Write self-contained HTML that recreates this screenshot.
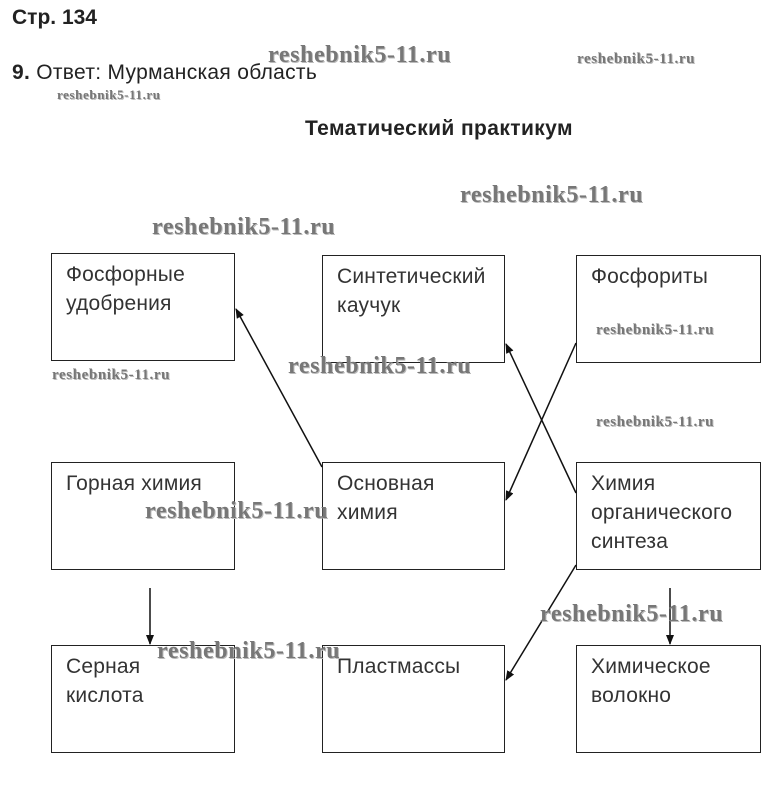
<!DOCTYPE html>
<html><head><meta charset="utf-8"><style>
body{margin:0;width:775px;height:803px;background:#fff;position:relative;overflow:hidden;font-family:"Liberation Sans",sans-serif;}
.t{position:absolute;white-space:nowrap;color:#222;}
.b{position:absolute;border:1px solid #222;box-sizing:border-box;font-size:21px;color:#333;padding:6px 0 0 14px;line-height:29px;letter-spacing:0.2px;}
.w{position:absolute;white-space:nowrap;font-family:"Liberation Serif",serif;font-weight:bold;color:#777;text-shadow:1px 1px 0 #bbb;letter-spacing:0.6px;}
</style></head><body>
<div class="t" style="left:12px;top:6px;font-size:21px;font-weight:bold">Стр. 134</div>
<div class="t" style="left:12px;top:61px;font-size:21px;letter-spacing:0.3px"><b>9.</b> Ответ: Мурманская область</div>
<div class="t" style="left:305px;top:117px;font-size:21px;font-weight:bold;letter-spacing:0.4px">Тематический практикум</div>

<div class="b" style="left:51px;top:253px;width:184px;height:108px">Фосфорные<br>удобрения</div>
<div class="b" style="left:322px;top:255px;width:183px;height:108px">Синтетический<br>каучук</div>
<div class="b" style="left:576px;top:255px;width:185px;height:108px">Фосфориты</div>
<div class="b" style="left:51px;top:462px;width:184px;height:108px">Горная химия</div>
<div class="b" style="left:322px;top:462px;width:183px;height:108px">Основная<br>химия</div>
<div class="b" style="left:576px;top:462px;width:185px;height:108px">Химия<br>органического<br>синтеза</div>
<div class="b" style="left:51px;top:645px;width:184px;height:108px">Серная<br>кислота</div>
<div class="b" style="left:322px;top:645px;width:183px;height:108px">Пластмассы</div>
<div class="b" style="left:576px;top:645px;width:185px;height:108px">Химическое<br>волокно</div>

<svg width="775" height="803" style="position:absolute;left:0;top:0">
<defs><marker id="a" markerWidth="10" markerHeight="8" refX="9" refY="4" orient="auto" markerUnits="userSpaceOnUse"><path d="M0,0L10,4L0,8z" fill="#111"/></marker></defs>
<g stroke="#111" stroke-width="1.5" marker-end="url(#a)">
<line x1="322" y1="467" x2="236" y2="309"/>
<line x1="576" y1="493" x2="506" y2="344"/>
<line x1="576" y1="343" x2="506" y2="500"/>
<line x1="576" y1="565" x2="506" y2="680"/>
<line x1="150" y1="588" x2="150" y2="644"/>
<line x1="670" y1="588" x2="670" y2="644"/>
</g></svg>

<div class="w" style="left:268px;top:42px;font-size:24px">reshebnik5-11.ru</div>
<div class="w" style="left:577px;top:51px;font-size:15px">reshebnik5-11.ru</div>
<div class="w" style="left:57px;top:87px;font-size:13px">reshebnik5-11.ru</div>
<div class="w" style="left:460px;top:182px;font-size:24px">reshebnik5-11.ru</div>
<div class="w" style="left:152px;top:214px;font-size:24px">reshebnik5-11.ru</div>
<div class="w" style="left:596px;top:322px;font-size:15px">reshebnik5-11.ru</div>
<div class="w" style="left:288px;top:353px;font-size:24px">reshebnik5-11.ru</div>
<div class="w" style="left:52px;top:367px;font-size:15px">reshebnik5-11.ru</div>
<div class="w" style="left:596px;top:414px;font-size:15px">reshebnik5-11.ru</div>
<div class="w" style="left:145px;top:498px;font-size:24px">reshebnik5-11.ru</div>
<div class="w" style="left:540px;top:601px;font-size:24px">reshebnik5-11.ru</div>
<div class="w" style="left:157px;top:638px;font-size:24px">reshebnik5-11.ru</div>
</body></html>
